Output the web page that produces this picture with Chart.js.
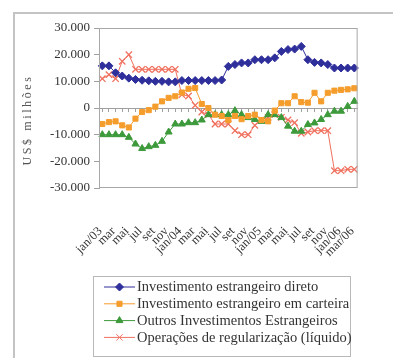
<!DOCTYPE html>
<html>
<head>
<meta charset="utf-8">
<script src="https://cdn.jsdelivr.net/npm/chart.js@4"></script>
<style>
  html, body { margin: 0; padding: 0; background: #fff; }
  #wrap { width: 393px; height: 358px; position: relative; }
</style>
</head>
<body>
<div id="wrap"><canvas id="chart" width="393" height="358"></canvas></div>
<script>
// Months jan/03 .. mar/06 (only every other one is labelled on the axis)
const months = [
  'jan/03', 'fev', 'mar', 'abr', 'mai', 'jun', 'jul', 'ago', 'set', 'out', 'nov', 'dez',
  'jan/04', 'fev', 'mar', 'abr', 'mai', 'jun', 'jul', 'ago', 'set', 'out', 'nov', 'dez',
  'jan/05', 'fev', 'mar', 'abr', 'mai', 'jun', 'jul', 'ago', 'set', 'out', 'nov', 'dez',
  'jan/06', 'fev', 'mar/06'
];

// US$ milhões
const directInv = [
  15800, 15800, 13200, 12000, 11200, 10700, 10400, 10200, 10000, 10000, 9800, 9800,
  10300, 10300, 10300, 10300, 10300, 10300, 10500, 15600, 16300, 16900, 16900, 18100,
  18100, 18100, 18800, 21200, 21900, 22100, 23100, 18100, 17100, 16900, 16300, 15000,
  15000, 15000, 15000
];
const portfolioInv = [
  -6000, -5300, -5000, -6500, -7300, -4000, -1500, -800, 500, 2500, 3800, 4400,
  5800, 7200, 7500, 1500, 0, -2500, -3000, -4500, -3000, -4200, -3000, -2500,
  -4500, -5000, -1000, 1800, 1800, 4400, 2200, 2000, 5700, 2500, 5700, 6500,
  6800, 7000, 7400
];
const otherInv = [
  -10000, -10000, -10000, -10000, -11000, -13500, -15200, -14500, -14000, -12500, -9000, -6000,
  -6000, -5500, -5500, -4500, -2500, -2500, -2500, -2500, -1000, -2500, -3600, -4300,
  -5000, -2500, -2500, -3600, -6800, -8700, -8700, -6200, -5600, -4300, -2500, -1200,
  -1200, 600, 2500
];
const regularization = [
  11000, 12500, 11000, 17500, 20000, 14500, 14500, 14500, 14500, 14500, 14500, 14500,
  5000, 4500, 1000, -1500, -2500, -6000, -6000, -6000, -8500, -10000, -10000, -6500,
  -4500, -3500, -2500, -3500, -4500, -5500, -9500, -9000, -8500, -8500, -8500, -23500,
  -23500, -23000, -23000
];

const seriesNames = [
  'Investimento estrangeiro direto',
  'Investimento estrangeiro em carteira',
  'Outros Investimentos Estrangeiros',
  'Operações de regularização (líquido)'
];
const yMin = -30000;
const yMax = 30000;
const yStep = 10000;
const yTitle = 'US$ milhões';

const FONT = '"Liberation Serif", "DejaVu Serif", serif';
const TEXT = '#333';

function fmt(v) {
  const s = String(Math.abs(v)).replace(/\B(?=(\d{3})+(?!\d))/g, '.');
  return (v < 0 ? '-' : '') + s;
}

function series(label, data, color, style, radius) {
  return {
    label: label,
    data: data,
    borderColor: color,
    backgroundColor: color,
    borderWidth: 1,
    pointStyle: style,
    pointRadius: radius,
    pointBorderWidth: style === 'crossRot' ? 1.3 : 1,
    tension: 0,
    fill: false
  };
}

// frame, plot border, rotated y title and boxed legend
const decorations = {
  id: 'decorations',
  beforeDraw(chart) {
    const ctx = chart.ctx;
    ctx.save();
    ctx.fillStyle = '#fff';
    ctx.fillRect(0, 0, chart.width, chart.height);
    ctx.strokeStyle = '#c4c4c4';
    ctx.lineWidth = 2;
    ctx.strokeRect(14, 13, chart.width + 10, chart.height + 10);
    ctx.restore();
  },
  afterDatasetsDraw(chart) {
    const ctx = chart.ctx;
    const a = chart.chartArea;
    ctx.save();
    ctx.strokeStyle = '#a8a8a8';
    ctx.lineWidth = 1;
    ctx.strokeRect(a.left + 0.5, a.top + 0.5, a.right - a.left - 1, a.bottom - a.top - 1);

    // y title
    ctx.translate(28, 120);
    ctx.rotate(-Math.PI / 2);
    ctx.font = '12px ' + FONT;
    ctx.letterSpacing = '2.6px';
    ctx.fillStyle = '#555';
    ctx.textAlign = 'center';
    ctx.textBaseline = 'middle';
    ctx.fillText(yTitle, 0, 0);
    ctx.restore();

    // legend
    ctx.save();
    ctx.strokeStyle = '#b8b8b8';
    ctx.lineWidth = 1;
    ctx.strokeRect(93.5, 276.5, 257, 80);
    ctx.font = '14.5px ' + FONT;
    ctx.fillStyle = TEXT;
    ctx.textAlign = 'left';
    ctx.textBaseline = 'middle';
    chart.data.datasets.forEach((ds, i) => {
      const y = 287 + i * 16.8;
      ctx.strokeStyle = ds.borderColor;
      ctx.lineWidth = 1;
      ctx.beginPath();
      ctx.moveTo(104, y);
      ctx.lineTo(135, y);
      ctx.stroke();
      ctx.fillStyle = ds.backgroundColor;
      Chart.helpers.drawPoint(ctx, {
        pointStyle: ds.pointStyle,
        rotation: 0,
        radius: ds.pointRadius,
        borderWidth: ds.pointBorderWidth
      }, 119.5, y);
      ctx.fillStyle = TEXT;
      ctx.fillText(ds.label, 137, y + 0.5);
    });
    ctx.restore();
  }
};

new Chart(document.getElementById('chart'), {
  type: 'line',
  data: {
    labels: months,
    datasets: [
      series(seriesNames[0], directInv, '#2f2f9c', 'rectRot', 4),
      series(seriesNames[1], portfolioInv, '#f59d2c', 'rect', 3.6),
      series(seriesNames[2], otherInv, '#3d9a3b', 'triangle', 4),
      series(seriesNames[3], regularization, '#f0705e', 'crossRot', 4.5)
    ]
  },
  options: {
    responsive: false,
    animation: false,
    devicePixelRatio: 1,
    layout: { padding: { left: 0, right: 4, top: 28, bottom: 0 } },
    plugins: {
      legend: { display: false },
      tooltip: { enabled: false }
    },
    scales: {
      x: {
        type: 'category',
        offset: true,
        grid: { display: false },
        border: { display: false },
        ticks: {
          autoSkip: false,
          minRotation: 45,
          maxRotation: 45,
          padding: 28,
          labelOffset: -2,
          color: TEXT,
          font: { family: FONT, size: 12.5 },
          callback: function(value, index) {
            return index % 2 === 0 ? months[index] : '';
          }
        },
        afterFit: function(scale) { scale.height = 170; }
      },
      x0: {
        type: 'category',
        position: { y: 0 },
        offset: true,
        grid: { drawOnChartArea: false, drawTicks: true, tickLength: 3, color: '#a0a0a0' },
        border: { display: true, color: '#a0a0a0' },
        ticks: { display: false }
      },
      y: {
        min: yMin,
        max: yMax,
        grid: { drawOnChartArea: false, drawTicks: true, tickLength: 5, color: '#a0a0a0' },
        border: { display: true, color: '#a8a8a8' },
        ticks: {
          stepSize: yStep,
          padding: 4,
          color: TEXT,
          font: { family: FONT, size: 13 },
          callback: function(value) { return fmt(value); }
        },
        afterFit: function(scale) { scale.width = 99; }
      }
    }
  },
  plugins: [decorations]
});
</script>
</body>
</html>
